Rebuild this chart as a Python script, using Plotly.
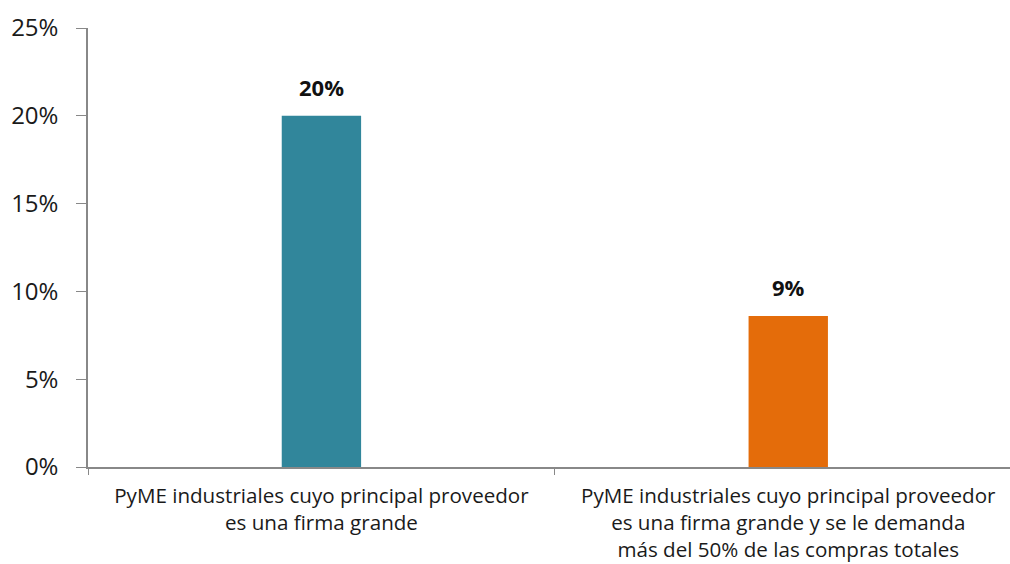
import plotly.graph_objects as go

categories = [
    "PyME industriales cuyo principal proveedor<br>es una firma grande",
    "PyME industriales cuyo principal proveedor<br>es una firma grande y se le demanda<br>más del 50% de las compras totales",
]
values = [20.0, 8.6]
labels = ["20%", "9%"]
colors = ["#31869B", "#E46C0A"]
y_ticks = [0, 5, 10, 15, 20, 25]
y_ticktext = ["0%", "5%", "10%", "15%", "20%", "25%"]

font_family = "'Open Sans', Lato, sans-serif"

fig = go.Figure(
    go.Bar(
        x=categories,
        y=values,
        marker=dict(color=colors, line=dict(width=0)),
        width=0.17,
        hoverinfo="x+y",
    )
)

for cat, val, lab in zip(categories, values, labels):
    fig.add_annotation(
        x=cat,
        y=val,
        text="<b>%s</b>" % lab,
        showarrow=False,
        yanchor="bottom",
        yshift=12,
        font=dict(size=22, color="#111111", family=font_family),
    )

fig.update_layout(
    width=1010,
    height=564,
    margin=dict(l=88, r=0, t=28, b=97, autoexpand=False),
    plot_bgcolor="white",
    paper_bgcolor="white",
    showlegend=False,
    font=dict(family=font_family, color="#1a1a1a"),
)

fig.update_xaxes(
    type="category",
    range=[-0.5, 1.475],
    showline=True,
    linecolor="#888888",
    linewidth=1.5,
    ticks="outside",
    tickson="boundaries",
    ticklen=6,
    tickcolor="#888888",
    tickwidth=1,
    showgrid=False,
    automargin=False,
    ticklabelstandoff=10,
    tickfont=dict(size=20.6, color="#1a1a1a"),
)

fig.update_yaxes(
    range=[0, 25],
    tickvals=y_ticks,
    ticktext=y_ticktext,
    showline=True,
    linecolor="#888888",
    linewidth=1.5,
    ticks="outside",
    ticklen=10,
    tickcolor="#888888",
    tickwidth=1,
    showgrid=False,
    zeroline=False,
    automargin=False,
    ticklabelstandoff=13,
    tickfont=dict(size=24, color="#1a1a1a"),
)

fig.write_html(
    "out.html",
    config={"displayModeBar": False},
    post_script="document.body.style.margin='0';document.body.style.overflow='hidden';",
)
